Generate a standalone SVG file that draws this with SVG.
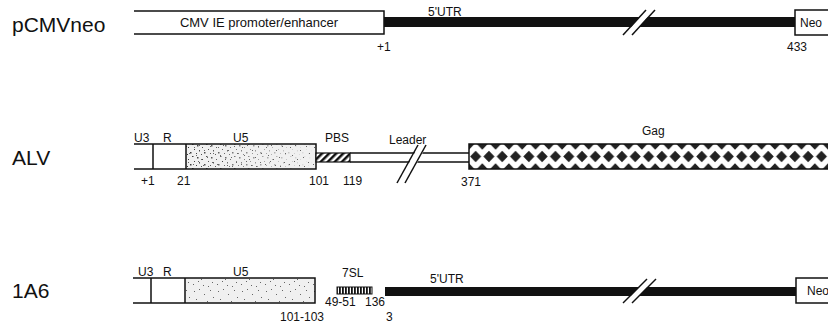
<svg xmlns="http://www.w3.org/2000/svg" width="828" height="323" viewBox="0 0 828 323">
<style>
.name{font-family:"Liberation Sans",Arial,sans-serif;font-size:21px;fill:#111}
.lbl{font-family:"Liberation Sans",Arial,sans-serif;font-size:12px;fill:#111}
.big{font-family:"Liberation Sans",Arial,sans-serif;font-size:13px;fill:#111}
.ln{stroke:#111;stroke-width:1.5;fill:none}
.box{stroke:#111;stroke-width:1.5;fill:#fff}
.bar{fill:#111}
</style>
<defs>
<pattern id="stip" width="24" height="24" patternUnits="userSpaceOnUse">
<rect width="24" height="24" fill="#f0f0f0"/>
<g fill="#666">
<rect x="2" y="3" width="1" height="1"/><rect x="7" y="1" width="1" height="1"/><rect x="12" y="6" width="1" height="1"/><rect x="18" y="2" width="1" height="1"/><rect x="21" y="9" width="1" height="1"/><rect x="4" y="11" width="1" height="1"/><rect x="9" y="15" width="1" height="1"/><rect x="15" y="13" width="1" height="1"/><rect x="20" y="18" width="1" height="1"/><rect x="1" y="20" width="1" height="1"/><rect x="11" y="21" width="1" height="1"/><rect x="16" y="22" width="1" height="1"/><rect x="6" y="17" width="1" height="1"/>
</g>
</pattern>
<pattern id="stipd" width="14" height="12" patternUnits="userSpaceOnUse">
<g fill="#333">
<rect x="1" y="1" width="1.5" height="1.5"/><rect x="6" y="3" width="1" height="1"/><rect x="10" y="0" width="1.5" height="1"/><rect x="3" y="6" width="1" height="1.5"/><rect x="8" y="8" width="1.5" height="1.5"/><rect x="12" y="5" width="1" height="1"/><rect x="5" y="10" width="1" height="1"/><rect x="0" y="9" width="1" height="1"/>
</g>
</pattern>
<linearGradient id="fade" x1="0" x2="1" y1="0" y2="0">
<stop offset="0" stop-color="#fff" stop-opacity="1"/>
<stop offset="0.6" stop-color="#fff" stop-opacity="0.4"/>
<stop offset="1" stop-color="#fff" stop-opacity="0"/>
</linearGradient>
<mask id="leftmask">
<rect x="186" y="144" width="130" height="25" fill="url(#fade)"/>
</mask>
<pattern id="hatch" width="5" height="5" patternUnits="userSpaceOnUse" patternTransform="rotate(45)">
<rect width="5" height="5" fill="#fff"/>
<rect width="2.5" height="5" fill="#111"/>
</pattern>
<pattern id="vstripe" width="3" height="10" patternUnits="userSpaceOnUse">
<rect width="3" height="10" fill="#fff"/>
<rect width="1.8" height="10" fill="#111"/>
</pattern>
<pattern id="diam" x="469" y="144" width="13.3" height="25" patternUnits="userSpaceOnUse">
<rect width="13.3" height="25" fill="#fff"/>
<polygon points="6.65,6.7 12.2,12.5 6.65,18.3 1.1,12.5" fill="#222"/>
<polygon points="0,-5.8 5.5,0 0,5.8 -5.5,0" fill="#222"/>
<polygon points="13.3,-5.8 18.8,0 13.3,5.8 7.8,0" fill="#222"/>
<polygon points="0,19.2 5.5,25 0,30.8 -5.5,25" fill="#222"/>
<polygon points="13.3,19.2 18.8,25 13.3,30.8 7.8,25" fill="#222"/>
</pattern>
</defs>

<g id="row-pCMVneo">
<text class="name" x="12" y="32">pCMVneo</text>
<g id="cmv">
<rect x="134" y="11" width="250" height="23" fill="#fff"/>
<path class="ln" d="M134,11 H384 V34 H134"/>
<text class="big" x="259" y="27" text-anchor="middle">CMV IE promoter/enhancer</text>
</g>
<g id="utr1">
<rect class="bar" x="384" y="17" width="412" height="10"/>
<polygon points="624,35 646,10 654,10 632,35" fill="#fff"/>
<line class="ln" x1="623" y1="35" x2="646" y2="10"/>
<line class="ln" x1="632" y1="35" x2="655" y2="10"/>
<text class="lbl" x="428" y="16">5'UTR</text>
</g>
<g id="neo1">
<rect class="box" x="795" y="10" width="40" height="25"/>
<text class="lbl" x="800" y="27">Neo</text>
</g>
<text class="lbl" x="377" y="51">+1</text>
<text class="lbl" x="787" y="51">433</text>
</g>

<g id="row-ALV">
<text class="name" x="12" y="165">ALV</text>
<g id="ltr2">
<rect x="186" y="144" width="130" height="25" fill="url(#stip)"/>
<rect x="186" y="144" width="130" height="25" fill="url(#stipd)" mask="url(#leftmask)"/>
<path class="ln" d="M134,144 H316 V169 H134 M153,144 V169 M186,144 V169"/>
<text class="lbl" x="134" y="142">U3</text>
<text class="lbl" x="163" y="142">R</text>
<text class="lbl" x="233" y="142">U5</text>
</g>
<g id="pbs">
<rect x="316" y="153" width="34" height="9" fill="url(#hatch)" stroke="#111" stroke-width="1.2"/>
<text class="lbl" x="325" y="142">PBS</text>
</g>
<g id="leader">
<path class="ln" d="M350,153 H469 M350,162 H469"/>
<polygon points="399,181 418,147 426,147 407,181" fill="#fff"/>
<line class="ln" x1="397" y1="183" x2="418" y2="145"/>
<line class="ln" x1="405" y1="183" x2="426" y2="145"/>
<text class="lbl" x="389" y="144">Leader</text>
</g>
<g id="gag">
<rect x="469" y="144" width="365" height="25" fill="url(#diam)" stroke="#111" stroke-width="1.5"/>
<text class="lbl" x="642" y="135">Gag</text>
</g>
<text class="lbl" x="141" y="185">+1</text>
<text class="lbl" x="177" y="185">21</text>
<text class="lbl" x="309" y="185">101</text>
<text class="lbl" x="343" y="185">119</text>
<text class="lbl" x="461" y="186">371</text>
</g>

<g id="row-1A6">
<text class="name" x="12" y="298">1A6</text>
<g id="ltr3">
<rect x="185" y="278" width="130" height="25" fill="url(#stip)"/>
<path class="ln" d="M133,278 H315 V303 H133 M151,278 V303 M185,278 V303"/>
<text class="lbl" x="138" y="276">U3</text>
<text class="lbl" x="163" y="276">R</text>
<text class="lbl" x="233" y="276">U5</text>
</g>
<g id="sl7">
<rect x="337" y="287" width="35" height="7" fill="url(#vstripe)" stroke="#111" stroke-width="1"/>
<text class="lbl" x="342" y="277">7SL</text>
</g>
<g id="utr3">
<rect class="bar" x="385" y="287" width="411" height="9"/>
<polygon points="624,303 647,279 655,279 632,303" fill="#fff"/>
<line class="ln" x1="623" y1="303" x2="647" y2="279"/>
<line class="ln" x1="632" y1="303" x2="656" y2="279"/>
<text class="lbl" x="430" y="283">5'UTR</text>
</g>
<g id="neo3">
<rect class="box" x="796" y="278" width="40" height="25"/>
<text class="lbl" x="807" y="295">Neo</text>
</g>
<text class="lbl" x="325" y="306">49-51</text>
<text class="lbl" x="365" y="306">136</text>
<text class="lbl" x="280" y="321">101-103</text>
<text class="lbl" x="386" y="321">3</text>
</g>
</svg>
